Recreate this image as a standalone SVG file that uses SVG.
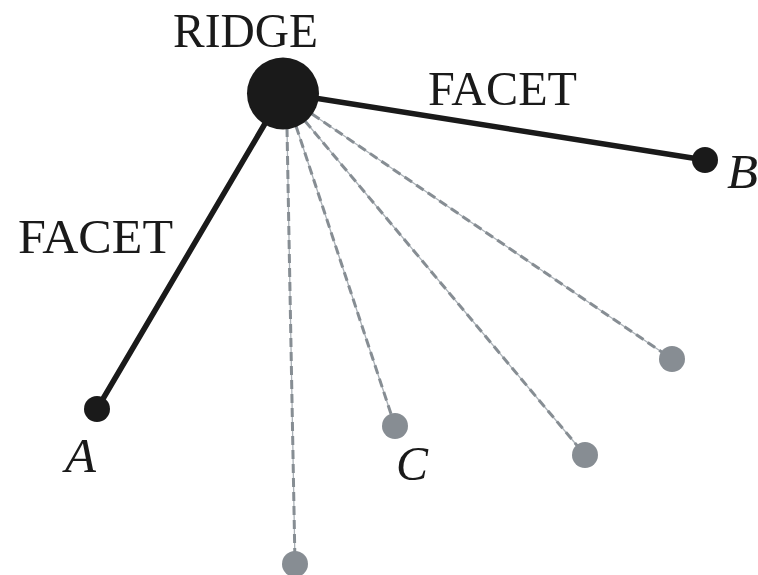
<svg xmlns="http://www.w3.org/2000/svg" width="758" height="575" viewBox="0 0 758 575">
<style>
.lbl{font-family:"Liberation Serif","Times New Roman",serif;font-size:49px;fill:#1a1a1a}
.it{font-style:italic}
.solid{stroke:#1a1a1a;stroke-width:5.5;stroke-linecap:round;fill:none}
.base{stroke:#aab1b7;stroke-width:1.3;fill:none}
.dash{stroke:#868d93;stroke-width:3;stroke-dasharray:9 5;fill:none}
.blk{fill:#1a1a1a}
.gry{fill:#878d93}
</style>
<rect width="758" height="575" fill="#ffffff"/>
<g id="connectors">
<line class="solid" x1="283" y1="93" x2="97" y2="409"/>
<line class="solid" x1="283" y1="93" x2="705" y2="160"/>
<g id="dashed">
<line class="base" x1="287" y1="128" x2="295" y2="564"/>
<line class="dash" x1="287" y1="128" x2="295" y2="564"/>
<line class="base" x1="296" y1="126" x2="395" y2="426"/>
<line class="dash" x1="296" y1="126" x2="395" y2="426"/>
<line class="base" x1="305" y1="121" x2="585" y2="455"/>
<line class="dash" x1="305" y1="121" x2="585" y2="455"/>
<line class="base" x1="312" y1="114" x2="672" y2="359"/>
<line class="dash" x1="312" y1="114" x2="672" y2="359"/>
</g>
</g>
<g id="ridge"><circle class="blk" cx="283" cy="93.5" r="36"/><text class="lbl" x="173" y="47" textLength="145" lengthAdjust="spacingAndGlyphs">RIDGE</text></g>
<g id="nodeA"><circle class="blk" cx="97" cy="409" r="13"/><text class="lbl it" x="65" y="472" textLength="31" lengthAdjust="spacingAndGlyphs">A</text></g>
<g id="nodeB"><circle class="blk" cx="705" cy="160" r="13"/><text class="lbl it" x="727" y="188" textLength="31" lengthAdjust="spacingAndGlyphs">B</text></g>
<g id="nodeC"><circle class="gry" cx="395" cy="426" r="13"/><text class="lbl it" x="396" y="480" textLength="32" lengthAdjust="spacingAndGlyphs">C</text></g>
<g id="node4"><circle class="gry" cx="295" cy="564" r="13"/></g>
<g id="node5"><circle class="gry" cx="585" cy="455" r="13"/></g>
<g id="node6"><circle class="gry" cx="672" cy="359" r="13"/></g>
<g id="facetLabels">
<text class="lbl" x="428" y="105" textLength="149" lengthAdjust="spacingAndGlyphs">FACET</text>
<text class="lbl" x="18" y="253" textLength="155" lengthAdjust="spacingAndGlyphs">FACET</text>
</g>
</svg>
